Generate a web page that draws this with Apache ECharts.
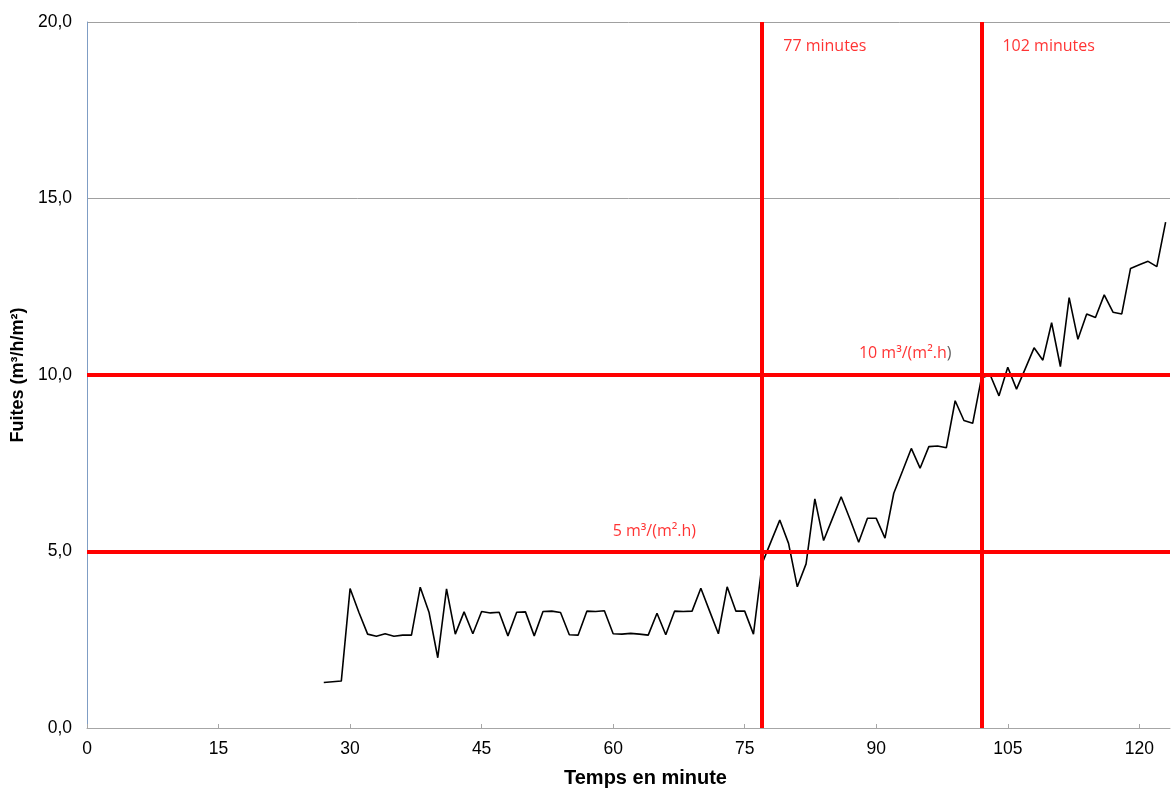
<!DOCTYPE html>
<html>
<head>
<meta charset="utf-8">
<title>Fuites en fonction du temps</title>
<script src="https://cdn.jsdelivr.net/npm/echarts@6/dist/echarts.min.js"></script>
<style>
  html, body { margin: 0; padding: 0; background: #fff; }
  #chart { width: 1171px; height: 790px; }
</style>
</head>
<body>
<div id="chart"></div>
<script>
// Time (minutes) and measured leakage (m³/h/m²)
const minutes = [
  27, 28, 29, 30, 31, 32, 33, 34, 35, 36, 37, 38, 39, 40, 41, 42, 43, 44, 45, 46,
  47, 48, 49, 50, 51, 52, 53, 54, 55, 56, 57, 58, 59, 60, 61, 62, 63, 64, 65, 66,
  67, 68, 69, 70, 71, 72, 73, 74, 75, 76, 77, 78, 79, 80, 81, 82, 83, 84, 85, 86,
  87, 88, 89, 90, 91, 92, 93, 94, 95, 96, 97, 98, 99, 100, 101, 102, 103, 104, 105, 106,
  107, 108, 109, 110, 111, 112, 113, 114, 115, 116, 117, 118, 119, 120, 121, 122, 123
];
const fuites = [
  1.29, 1.31, 1.33, 3.95, 3.28, 2.66, 2.60, 2.67, 2.60, 2.63, 2.63, 3.99, 3.28, 1.99, 3.94, 2.66, 3.29, 2.67, 3.30, 3.26,
  3.28, 2.61, 3.28, 3.29, 2.61, 3.30, 3.31, 3.27, 2.64, 2.63, 3.31, 3.30, 3.32, 2.67, 2.66, 2.68, 2.66, 2.63, 3.25, 2.64,
  3.31, 3.30, 3.31, 3.96, 3.31, 2.67, 4.00, 3.31, 3.31, 2.66, 4.67, 5.28, 5.89, 5.23, 4.00, 4.65, 6.49, 5.31, 5.93, 6.55,
  5.92, 5.26, 5.94, 5.94, 5.38, 6.65, 7.28, 7.92, 7.36, 7.97, 7.99, 7.94, 9.27, 8.71, 8.63, 9.92, 10.00, 9.41, 10.22, 9.60,
  10.18, 10.77, 10.42, 11.48, 10.24, 12.19, 11.01, 11.73, 11.63, 12.27, 11.78, 11.73, 13.02, 13.12, 13.22, 13.07, 14.33
];

// Axis ticks
const xTicks = [0, 15, 30, 45, 60, 75, 90, 105, 120];
const yTicks = [0, 5, 10, 15, 20];

// Threshold levels and the times they are reached
const seuils = [5, 10];
const tempsSeuils = [77, 102];

const points = minutes.map((m, i) => [m, fuites[i]]);
const redText = '#FF0000';
const annoFont = '"Open Sans", "Noto Sans", sans-serif';

const chart = echarts.init(document.getElementById('chart'), null, { renderer: 'canvas' });

chart.setOption({
  animation: false,
  backgroundColor: '#ffffff',
  textStyle: { fontFamily: '"Liberation Sans", Arial, sans-serif' },
  grid: { left: 87, right: 1, top: 22, bottom: 62, containLabel: false, outerBoundsMode: 'none' },
  xAxis: {
    type: 'value',
    min: 0,
    max: 123.5,
    interval: 15,
    name: 'Temps en minute',
    nameLocation: 'middle',
    nameGap: 40,
    nameTextStyle: { fontSize: 20, fontWeight: 'bold', color: '#000', padding: [0, 0, 0, 34] },
    axisLine: { show: true, onZero: false, lineStyle: { color: '#A6A6A6', width: 1 } },
    axisTick: { show: true, inside: true, length: 4, customValues: xTicks, lineStyle: { color: '#A6A6A6' } },
    axisLabel: { customValues: xTicks, fontSize: 17.5, color: '#000', margin: 12 },
    splitLine: { show: false }
  },
  yAxis: {
    type: 'value',
    min: yTicks[0],
    max: yTicks[yTicks.length - 1],
    interval: 5,
    name: 'Fuites (m³/h/m²)',
    nameLocation: 'middle',
    nameGap: 60,
    nameTextStyle: { fontSize: 18, fontWeight: 'bold', color: '#000' },
    axisLine: { show: true, lineStyle: { color: '#7F9DC4', width: 1 } },
    axisTick: { show: false },
    axisLabel: {
      fontSize: 17.5, color: '#000', margin: 15,
      formatter: v => v.toFixed(1).replace('.', ',')
    },
    splitLine: { show: true, lineStyle: { color: '#A0A0A0', width: 1 } }
  },
  series: [
    {
      name: 'Fuites',
      type: 'line',
      data: points,
      showSymbol: false,
      symbol: 'none',
      lineStyle: { color: '#000', width: 1.6 },
      z: 2,
      markLine: {
        silent: true,
        symbol: 'none',
        animation: false,
        label: { show: false },
        lineStyle: { color: '#FF0000', width: 4, type: 'solid' },
        data: [
          ...tempsSeuils.map(t => ({ xAxis: t })),
          ...seuils.map(s => ({ yAxis: s }))
        ]
      }
    },
    {
      // text annotations for the thresholds
      name: 'annotations',
      type: 'scatter',
      symbolSize: 0,
      silent: true,
      z: 5,
      data: [
        { value: [tempsSeuils[0], 19.3], text: tempsSeuils[0] + ' minutes', pos: 'right', dx: 21 },
        { value: [tempsSeuils[1], 19.3], text: tempsSeuils[1] + ' minutes', pos: 'right', dx: 21 },
        { value: [93.3, seuils[1] + 0.62], kind: 'ten' },
        { value: [64.7, seuils[0] + 0.58], text: seuils[0] + ' m³/(m².h)' }
      ].map(d => ({
        value: d.value,
        label: {
          show: true,
          position: d.pos === 'right' ? 'right' : 'inside',
          distance: d.dx || 0,
          fontFamily: annoFont,
          fontSize: 16,
          color: redText,
          formatter: d.kind === 'ten' ? '{r|' + seuils[1] + ' m³/(m².h}{k|)}' : d.text,
          rich: {
            r: { color: redText, fontFamily: annoFont, fontSize: 16 },
            k: { color: '#333333', fontFamily: annoFont, fontSize: 16 }
          }
        }
      }))
    }
  ]
});
</script>
</body>
</html>
